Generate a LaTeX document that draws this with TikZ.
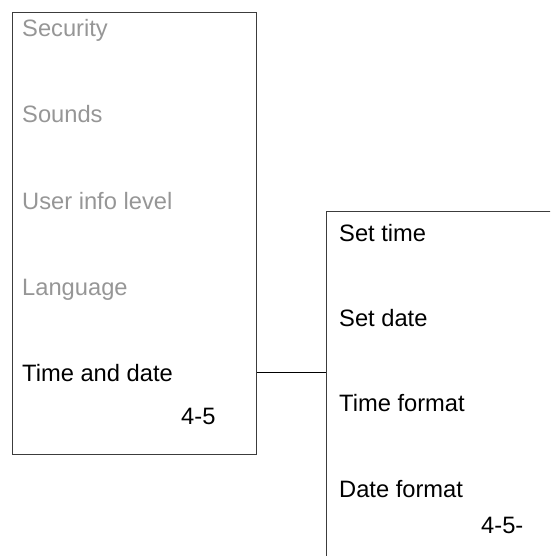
\documentclass[tikz,border=0pt]{standalone}
\usepackage{fontspec}
\setmainfont{Liberation Sans}
\usepackage{xcolor}
\usepackage{tikz}
\usetikzlibrary{positioning}

\definecolor{itemgray}{RGB}{150,150,150}
\definecolor{framegray}{RGB}{60,60,60}

\begin{document}
\begin{tikzpicture}[x=1pt,y=-1pt,
  font=\fontsize{23.7}{28}\selectfont,
  menubox/.style={draw=framegray,line width=1.3pt,anchor=north west,inner sep=0pt},
  entry/.style={anchor=base west,inner sep=0pt},
  dimentry/.style={entry,text=itemgray}]
\clip (0,0) rectangle (550,556);
% main menu
\node[menubox,minimum width=244pt,minimum height=442pt] (menu) at (12,12) {};
\node[dimentry] (security) at (22,37) {Security};
\node[dimentry] (sounds) at (22,123) {Sounds};
\node[dimentry] (userinfo) at (22,209) {User info level};
\node[dimentry] (language) at (22,295) {Language};
\node[entry] (timedate) at (22,381) {Time and date};
\node[entry] (pageleft) at (181,424) {4-5};
% sub menu, runs off the page
\node[menubox,minimum width=300pt,minimum height=420pt] (sub) at (326,211) {};
\node[entry] (settime) at (339,241) {Set time};
\node[entry] (setdate) at (339,326) {Set date};
\node[entry] (timeformat) at (339,411) {Time format};
\node[entry] (dateformat) at (339,497) {Date format};
\node[entry] (pageright) at (481,533) {4-5-};
\coordinate (link) at (290,372);
\draw[line width=1pt] (menu.east |- link) -- (sub.west |- link);
\end{tikzpicture}
\end{document}
